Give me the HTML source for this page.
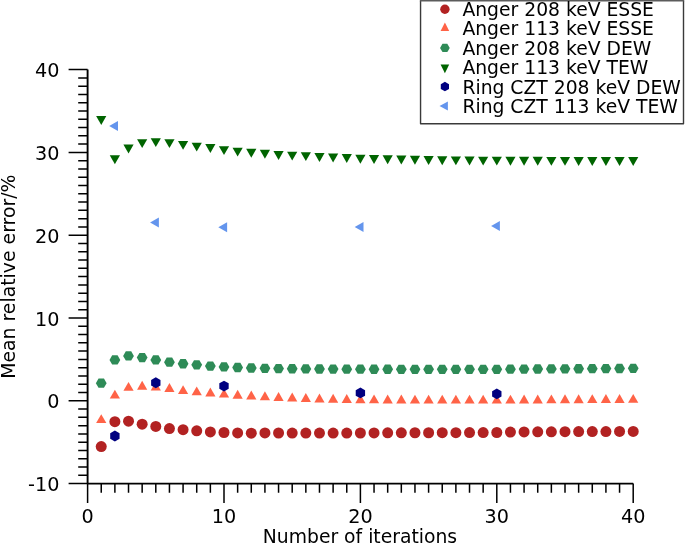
<!DOCTYPE html>
<html><head><meta charset="utf-8"><style>
html,body{margin:0;padding:0;background:#fff;}
svg{display:block;}
text{font-family:'DejaVu Sans','Liberation Sans',sans-serif;font-size:18.6px;fill:#000;}
</style></head><body>
<svg width="685" height="544" viewBox="0 0 685 544">
<rect width="685" height="544" fill="#fff"/>
<path d="M87.60,69.60 L87.60,483.60 L633.20,483.60" fill="none" stroke="#000" stroke-width="1.9" stroke-linejoin="round"/>
<path d="M68.60,483.60H87.60M78.20,475.32H87.60M78.20,467.04H87.60M78.20,458.76H87.60M78.20,450.48H87.60M78.20,442.20H87.60M78.20,433.92H87.60M78.20,425.64H87.60M78.20,417.36H87.60M78.20,409.08H87.60M68.60,400.80H87.60M78.20,392.52H87.60M78.20,384.24H87.60M78.20,375.96H87.60M78.20,367.68H87.60M78.20,359.40H87.60M78.20,351.12H87.60M78.20,342.84H87.60M78.20,334.56H87.60M78.20,326.28H87.60M68.60,318.00H87.60M78.20,309.72H87.60M78.20,301.44H87.60M78.20,293.16H87.60M78.20,284.88H87.60M78.20,276.60H87.60M78.20,268.32H87.60M78.20,260.04H87.60M78.20,251.76H87.60M78.20,243.48H87.60M68.60,235.20H87.60M78.20,226.92H87.60M78.20,218.64H87.60M78.20,210.36H87.60M78.20,202.08H87.60M78.20,193.80H87.60M78.20,185.52H87.60M78.20,177.24H87.60M78.20,168.96H87.60M78.20,160.68H87.60M68.60,152.40H87.60M78.20,144.12H87.60M78.20,135.84H87.60M78.20,127.56H87.60M78.20,119.28H87.60M78.20,111.00H87.60M78.20,102.72H87.60M78.20,94.44H87.60M78.20,86.16H87.60M78.20,77.88H87.60M68.60,69.60H87.60M87.60,483.60V502.90M101.24,483.60V492.80M114.88,483.60V492.80M128.52,483.60V492.80M142.16,483.60V492.80M155.80,483.60V492.80M169.44,483.60V492.80M183.08,483.60V492.80M196.72,483.60V492.80M210.36,483.60V492.80M224.00,483.60V502.90M237.64,483.60V492.80M251.28,483.60V492.80M264.92,483.60V492.80M278.56,483.60V492.80M292.20,483.60V492.80M305.84,483.60V492.80M319.48,483.60V492.80M333.12,483.60V492.80M346.76,483.60V492.80M360.40,483.60V502.90M374.04,483.60V492.80M387.68,483.60V492.80M401.32,483.60V492.80M414.96,483.60V492.80M428.60,483.60V492.80M442.24,483.60V492.80M455.88,483.60V492.80M469.52,483.60V492.80M483.16,483.60V492.80M496.80,483.60V502.90M510.44,483.60V492.80M524.08,483.60V492.80M537.72,483.60V492.80M551.36,483.60V492.80M565.00,483.60V492.80M578.64,483.60V492.80M592.28,483.60V492.80M605.92,483.60V492.80M619.56,483.60V492.80M633.20,483.60V502.90" fill="none" stroke="#000" stroke-width="1.5"/>
<text x="59.4" y="491.10" text-anchor="end" style="font-size:19.2px">-10</text>
<text x="59.4" y="408.30" text-anchor="end" style="font-size:19.2px">0</text>
<text x="59.4" y="325.50" text-anchor="end" style="font-size:19.2px">10</text>
<text x="59.4" y="242.70" text-anchor="end" style="font-size:19.2px">20</text>
<text x="59.4" y="159.90" text-anchor="end" style="font-size:19.2px">30</text>
<text x="59.4" y="77.10" text-anchor="end" style="font-size:19.2px">40</text>
<text x="87.60" y="522.5" text-anchor="middle" style="font-size:19.2px">0</text>
<text x="224.00" y="522.5" text-anchor="middle" style="font-size:19.2px">10</text>
<text x="360.40" y="522.5" text-anchor="middle" style="font-size:19.2px">20</text>
<text x="496.80" y="522.5" text-anchor="middle" style="font-size:19.2px">30</text>
<text x="633.20" y="522.5" text-anchor="middle" style="font-size:19.2px">40</text>
<text x="360.00" y="542.5" text-anchor="middle" style="font-size:18.75px">Number of iterations</text>
<text transform="translate(14.9,276.7) rotate(-90)" x="0" y="0" text-anchor="middle" style="font-size:18.85px">Mean relative error/%</text>
<circle cx="101.24" cy="446.59" r="5.50" fill="#b22222"/>
<circle cx="114.88" cy="421.67" r="5.50" fill="#b22222"/>
<circle cx="128.52" cy="421.17" r="5.50" fill="#b22222"/>
<circle cx="142.16" cy="424.23" r="5.50" fill="#b22222"/>
<circle cx="155.80" cy="426.39" r="5.50" fill="#b22222"/>
<circle cx="169.44" cy="428.62" r="5.50" fill="#b22222"/>
<circle cx="183.08" cy="429.70" r="5.50" fill="#b22222"/>
<circle cx="196.72" cy="430.86" r="5.50" fill="#b22222"/>
<circle cx="210.36" cy="431.93" r="5.50" fill="#b22222"/>
<circle cx="224.00" cy="432.51" r="5.50" fill="#b22222"/>
<circle cx="237.64" cy="432.93" r="5.50" fill="#b22222"/>
<circle cx="251.28" cy="433.17" r="5.50" fill="#b22222"/>
<circle cx="264.92" cy="432.93" r="5.50" fill="#b22222"/>
<circle cx="278.56" cy="433.01" r="5.50" fill="#b22222"/>
<circle cx="292.20" cy="433.09" r="5.50" fill="#b22222"/>
<circle cx="305.84" cy="433.09" r="5.50" fill="#b22222"/>
<circle cx="319.48" cy="433.09" r="5.50" fill="#b22222"/>
<circle cx="333.12" cy="433.09" r="5.50" fill="#b22222"/>
<circle cx="346.76" cy="433.09" r="5.50" fill="#b22222"/>
<circle cx="360.40" cy="433.01" r="5.50" fill="#b22222"/>
<circle cx="374.04" cy="432.93" r="5.50" fill="#b22222"/>
<circle cx="387.68" cy="432.84" r="5.50" fill="#b22222"/>
<circle cx="401.32" cy="432.84" r="5.50" fill="#b22222"/>
<circle cx="414.96" cy="432.76" r="5.50" fill="#b22222"/>
<circle cx="428.60" cy="432.76" r="5.50" fill="#b22222"/>
<circle cx="442.24" cy="432.68" r="5.50" fill="#b22222"/>
<circle cx="455.88" cy="432.68" r="5.50" fill="#b22222"/>
<circle cx="469.52" cy="432.60" r="5.50" fill="#b22222"/>
<circle cx="483.16" cy="432.60" r="5.50" fill="#b22222"/>
<circle cx="496.80" cy="432.51" r="5.50" fill="#b22222"/>
<circle cx="510.44" cy="432.02" r="5.50" fill="#b22222"/>
<circle cx="524.08" cy="431.93" r="5.50" fill="#b22222"/>
<circle cx="537.72" cy="431.85" r="5.50" fill="#b22222"/>
<circle cx="551.36" cy="431.77" r="5.50" fill="#b22222"/>
<circle cx="565.00" cy="431.68" r="5.50" fill="#b22222"/>
<circle cx="578.64" cy="431.60" r="5.50" fill="#b22222"/>
<circle cx="592.28" cy="431.52" r="5.50" fill="#b22222"/>
<circle cx="605.92" cy="431.52" r="5.50" fill="#b22222"/>
<circle cx="619.56" cy="431.44" r="5.50" fill="#b22222"/>
<circle cx="633.20" cy="431.44" r="5.50" fill="#b22222"/>
<polygon points="101.24,414.22 96.14,423.12 106.34,423.12" fill="#ff6347"/>
<polygon points="114.88,389.71 109.78,398.61 119.98,398.61" fill="#ff6347"/>
<polygon points="128.52,381.93 123.42,390.83 133.62,390.83" fill="#ff6347"/>
<polygon points="142.16,380.77 137.06,389.67 147.26,389.67" fill="#ff6347"/>
<polygon points="155.80,381.68 150.70,390.58 160.90,390.58" fill="#ff6347"/>
<polygon points="169.44,383.01 164.34,391.91 174.54,391.91" fill="#ff6347"/>
<polygon points="183.08,385.16 177.98,394.06 188.18,394.06" fill="#ff6347"/>
<polygon points="196.72,386.40 191.62,395.30 201.82,395.30" fill="#ff6347"/>
<polygon points="210.36,387.48 205.26,396.38 215.46,396.38" fill="#ff6347"/>
<polygon points="224.00,388.72 218.90,397.62 229.10,397.62" fill="#ff6347"/>
<polygon points="237.64,389.80 232.54,398.70 242.74,398.70" fill="#ff6347"/>
<polygon points="251.28,390.62 246.18,399.52 256.38,399.52" fill="#ff6347"/>
<polygon points="264.92,391.37 259.82,400.27 270.02,400.27" fill="#ff6347"/>
<polygon points="278.56,392.03 273.46,400.93 283.66,400.93" fill="#ff6347"/>
<polygon points="292.20,392.61 287.10,401.51 297.30,401.51" fill="#ff6347"/>
<polygon points="305.84,393.11 300.74,402.01 310.94,402.01" fill="#ff6347"/>
<polygon points="319.48,393.52 314.38,402.42 324.58,402.42" fill="#ff6347"/>
<polygon points="333.12,393.85 328.02,402.75 338.22,402.75" fill="#ff6347"/>
<polygon points="346.76,394.10 341.66,403.00 351.86,403.00" fill="#ff6347"/>
<polygon points="360.40,394.27 355.30,403.17 365.50,403.17" fill="#ff6347"/>
<polygon points="374.04,394.43 368.94,403.33 379.14,403.33" fill="#ff6347"/>
<polygon points="387.68,394.52 382.58,403.42 392.78,403.42" fill="#ff6347"/>
<polygon points="401.32,394.60 396.22,403.50 406.42,403.50" fill="#ff6347"/>
<polygon points="414.96,394.68 409.86,403.58 420.06,403.58" fill="#ff6347"/>
<polygon points="428.60,394.68 423.50,403.58 433.70,403.58" fill="#ff6347"/>
<polygon points="442.24,394.68 437.14,403.58 447.34,403.58" fill="#ff6347"/>
<polygon points="455.88,394.68 450.78,403.58 460.98,403.58" fill="#ff6347"/>
<polygon points="469.52,394.68 464.42,403.58 474.62,403.58" fill="#ff6347"/>
<polygon points="483.16,394.68 478.06,403.58 488.26,403.58" fill="#ff6347"/>
<polygon points="496.80,394.68 491.70,403.58 501.90,403.58" fill="#ff6347"/>
<polygon points="510.44,394.68 505.34,403.58 515.54,403.58" fill="#ff6347"/>
<polygon points="524.08,394.60 518.98,403.50 529.18,403.50" fill="#ff6347"/>
<polygon points="537.72,394.52 532.62,403.42 542.82,403.42" fill="#ff6347"/>
<polygon points="551.36,394.43 546.26,403.33 556.46,403.33" fill="#ff6347"/>
<polygon points="565.00,394.35 559.90,403.25 570.10,403.25" fill="#ff6347"/>
<polygon points="578.64,394.27 573.54,403.17 583.74,403.17" fill="#ff6347"/>
<polygon points="592.28,394.18 587.18,403.08 597.38,403.08" fill="#ff6347"/>
<polygon points="605.92,394.10 600.82,403.00 611.02,403.00" fill="#ff6347"/>
<polygon points="619.56,394.02 614.46,402.92 624.66,402.92" fill="#ff6347"/>
<polygon points="633.20,393.94 628.10,402.84 638.30,402.84" fill="#ff6347"/>
<polygon points="106.64,383.16 103.94,378.49 98.54,378.49 95.84,383.16 98.54,387.84 103.94,387.84" fill="#2e8b57"/>
<polygon points="120.28,359.90 117.58,355.22 112.18,355.22 109.48,359.90 112.18,364.57 117.58,364.57" fill="#2e8b57"/>
<polygon points="133.92,355.92 131.22,351.25 125.82,351.25 123.12,355.92 125.82,360.60 131.22,360.60" fill="#2e8b57"/>
<polygon points="147.56,357.58 144.86,352.90 139.46,352.90 136.76,357.58 139.46,362.25 144.86,362.25" fill="#2e8b57"/>
<polygon points="161.20,359.90 158.50,355.22 153.10,355.22 150.40,359.90 153.10,364.57 158.50,364.57" fill="#2e8b57"/>
<polygon points="174.84,362.13 172.14,357.46 166.74,357.46 164.04,362.13 166.74,366.81 172.14,366.81" fill="#2e8b57"/>
<polygon points="188.48,363.79 185.78,359.11 180.38,359.11 177.68,363.79 180.38,368.46 185.78,368.46" fill="#2e8b57"/>
<polygon points="202.12,364.86 199.42,360.19 194.02,360.19 191.32,364.86 194.02,369.54 199.42,369.54" fill="#2e8b57"/>
<polygon points="215.76,366.11 213.06,361.43 207.66,361.43 204.96,366.11 207.66,370.78 213.06,370.78" fill="#2e8b57"/>
<polygon points="229.40,366.93 226.70,362.26 221.30,362.26 218.60,366.93 221.30,371.61 226.70,371.61" fill="#2e8b57"/>
<polygon points="243.04,367.51 240.34,362.84 234.94,362.84 232.24,367.51 234.94,372.19 240.34,372.19" fill="#2e8b57"/>
<polygon points="256.68,368.01 253.98,363.33 248.58,363.33 245.88,368.01 248.58,372.69 253.98,372.69" fill="#2e8b57"/>
<polygon points="270.32,368.34 267.62,363.67 262.22,363.67 259.52,368.34 262.22,373.02 267.62,373.02" fill="#2e8b57"/>
<polygon points="283.96,368.59 281.26,363.91 275.86,363.91 273.16,368.59 275.86,373.27 281.26,373.27" fill="#2e8b57"/>
<polygon points="297.60,368.76 294.90,364.08 289.50,364.08 286.80,368.76 289.50,373.43 294.90,373.43" fill="#2e8b57"/>
<polygon points="311.24,368.92 308.54,364.25 303.14,364.25 300.44,368.92 303.14,373.60 308.54,373.60" fill="#2e8b57"/>
<polygon points="324.88,369.00 322.18,364.33 316.78,364.33 314.08,369.00 316.78,373.68 322.18,373.68" fill="#2e8b57"/>
<polygon points="338.52,369.09 335.82,364.41 330.42,364.41 327.72,369.09 330.42,373.76 335.82,373.76" fill="#2e8b57"/>
<polygon points="352.16,369.17 349.46,364.49 344.06,364.49 341.36,369.17 344.06,373.85 349.46,373.85" fill="#2e8b57"/>
<polygon points="365.80,369.17 363.10,364.49 357.70,364.49 355.00,369.17 357.70,373.85 363.10,373.85" fill="#2e8b57"/>
<polygon points="379.44,369.25 376.74,364.58 371.34,364.58 368.64,369.25 371.34,373.93 376.74,373.93" fill="#2e8b57"/>
<polygon points="393.08,369.25 390.38,364.58 384.98,364.58 382.28,369.25 384.98,373.93 390.38,373.93" fill="#2e8b57"/>
<polygon points="406.72,369.34 404.02,364.66 398.62,364.66 395.92,369.34 398.62,374.01 404.02,374.01" fill="#2e8b57"/>
<polygon points="420.36,369.34 417.66,364.66 412.26,364.66 409.56,369.34 412.26,374.01 417.66,374.01" fill="#2e8b57"/>
<polygon points="434.00,369.34 431.30,364.66 425.90,364.66 423.20,369.34 425.90,374.01 431.30,374.01" fill="#2e8b57"/>
<polygon points="447.64,369.34 444.94,364.66 439.54,364.66 436.84,369.34 439.54,374.01 444.94,374.01" fill="#2e8b57"/>
<polygon points="461.28,369.34 458.58,364.66 453.18,364.66 450.48,369.34 453.18,374.01 458.58,374.01" fill="#2e8b57"/>
<polygon points="474.92,369.34 472.22,364.66 466.82,364.66 464.12,369.34 466.82,374.01 472.22,374.01" fill="#2e8b57"/>
<polygon points="488.56,369.34 485.86,364.66 480.46,364.66 477.76,369.34 480.46,374.01 485.86,374.01" fill="#2e8b57"/>
<polygon points="502.20,369.34 499.50,364.66 494.10,364.66 491.40,369.34 494.10,374.01 499.50,374.01" fill="#2e8b57"/>
<polygon points="515.84,369.17 513.14,364.49 507.74,364.49 505.04,369.17 507.74,373.85 513.14,373.85" fill="#2e8b57"/>
<polygon points="529.48,369.09 526.78,364.41 521.38,364.41 518.68,369.09 521.38,373.76 526.78,373.76" fill="#2e8b57"/>
<polygon points="543.12,369.00 540.42,364.33 535.02,364.33 532.32,369.00 535.02,373.68 540.42,373.68" fill="#2e8b57"/>
<polygon points="556.76,368.92 554.06,364.25 548.66,364.25 545.96,368.92 548.66,373.60 554.06,373.60" fill="#2e8b57"/>
<polygon points="570.40,368.84 567.70,364.16 562.30,364.16 559.60,368.84 562.30,373.52 567.70,373.52" fill="#2e8b57"/>
<polygon points="584.04,368.76 581.34,364.08 575.94,364.08 573.24,368.76 575.94,373.43 581.34,373.43" fill="#2e8b57"/>
<polygon points="597.68,368.67 594.98,364.00 589.58,364.00 586.88,368.67 589.58,373.35 594.98,373.35" fill="#2e8b57"/>
<polygon points="611.32,368.59 608.62,363.91 603.22,363.91 600.52,368.59 603.22,373.27 608.62,373.27" fill="#2e8b57"/>
<polygon points="624.96,368.51 622.26,363.83 616.86,363.83 614.16,368.51 616.86,373.18 622.26,373.18" fill="#2e8b57"/>
<polygon points="638.60,368.34 635.90,363.67 630.50,363.67 627.80,368.34 630.50,373.02 635.90,373.02" fill="#2e8b57"/>
<polygon points="101.24,124.98 96.14,116.08 106.34,116.08" fill="#006400"/>
<polygon points="114.88,164.23 109.78,155.33 119.98,155.33" fill="#006400"/>
<polygon points="128.52,153.47 123.42,144.57 133.62,144.57" fill="#006400"/>
<polygon points="142.16,148.09 137.06,139.19 147.26,139.19" fill="#006400"/>
<polygon points="155.80,147.09 150.70,138.19 160.90,138.19" fill="#006400"/>
<polygon points="169.44,148.09 164.34,139.19 174.54,139.19" fill="#006400"/>
<polygon points="183.08,149.82 177.98,140.92 188.18,140.92" fill="#006400"/>
<polygon points="196.72,151.56 191.62,142.66 201.82,142.66" fill="#006400"/>
<polygon points="210.36,152.97 205.26,144.07 215.46,144.07" fill="#006400"/>
<polygon points="224.00,155.04 218.90,146.14 229.10,146.14" fill="#006400"/>
<polygon points="237.64,156.53 232.54,147.63 242.74,147.63" fill="#006400"/>
<polygon points="251.28,157.77 246.18,148.87 256.38,148.87" fill="#006400"/>
<polygon points="264.92,158.68 259.82,149.78 270.02,149.78" fill="#006400"/>
<polygon points="278.56,159.93 273.46,151.03 283.66,151.03" fill="#006400"/>
<polygon points="292.20,160.59 287.10,151.69 297.30,151.69" fill="#006400"/>
<polygon points="305.84,161.09 300.74,152.19 310.94,152.19" fill="#006400"/>
<polygon points="319.48,161.91 314.38,153.01 324.58,153.01" fill="#006400"/>
<polygon points="333.12,162.41 328.02,153.51 338.22,153.51" fill="#006400"/>
<polygon points="346.76,162.91 341.66,154.01 351.86,154.01" fill="#006400"/>
<polygon points="360.40,163.65 355.30,154.75 365.50,154.75" fill="#006400"/>
<polygon points="374.04,163.90 368.94,155.00 379.14,155.00" fill="#006400"/>
<polygon points="387.68,164.15 382.58,155.25 392.78,155.25" fill="#006400"/>
<polygon points="401.32,164.40 396.22,155.50 406.42,155.50" fill="#006400"/>
<polygon points="414.96,164.73 409.86,155.83 420.06,155.83" fill="#006400"/>
<polygon points="428.60,164.98 423.50,156.08 433.70,156.08" fill="#006400"/>
<polygon points="442.24,165.14 437.14,156.24 447.34,156.24" fill="#006400"/>
<polygon points="455.88,165.31 450.78,156.41 460.98,156.41" fill="#006400"/>
<polygon points="469.52,165.39 464.42,156.49 474.62,156.49" fill="#006400"/>
<polygon points="483.16,165.56 478.06,156.66 488.26,156.66" fill="#006400"/>
<polygon points="496.80,165.56 491.70,156.66 501.90,156.66" fill="#006400"/>
<polygon points="510.44,165.64 505.34,156.74 515.54,156.74" fill="#006400"/>
<polygon points="524.08,165.72 518.98,156.82 529.18,156.82" fill="#006400"/>
<polygon points="537.72,165.72 532.62,156.82 542.82,156.82" fill="#006400"/>
<polygon points="551.36,165.80 546.26,156.90 556.46,156.90" fill="#006400"/>
<polygon points="565.00,165.80 559.90,156.90 570.10,156.90" fill="#006400"/>
<polygon points="578.64,165.89 573.54,156.99 583.74,156.99" fill="#006400"/>
<polygon points="592.28,165.89 587.18,156.99 597.38,156.99" fill="#006400"/>
<polygon points="605.92,165.97 600.82,157.07 611.02,157.07" fill="#006400"/>
<polygon points="619.56,165.97 614.46,157.07 624.66,157.07" fill="#006400"/>
<polygon points="633.20,165.97 628.10,157.07 638.30,157.07" fill="#006400"/>
<polygon points="114.88,430.59 110.20,433.29 110.20,438.69 114.88,441.39 119.56,438.69 119.56,433.29" fill="#000080"/>
<polygon points="155.80,377.35 151.12,380.05 151.12,385.45 155.80,388.15 160.48,385.45 160.48,380.05" fill="#000080"/>
<polygon points="224.00,380.66 219.32,383.36 219.32,388.76 224.00,391.46 228.68,388.76 228.68,383.36" fill="#000080"/>
<polygon points="360.40,387.53 355.72,390.23 355.72,395.63 360.40,398.33 365.08,395.63 365.08,390.23" fill="#000080"/>
<polygon points="496.80,388.44 492.12,391.14 492.12,396.54 496.80,399.24 501.48,396.54 501.48,391.14" fill="#000080"/>
<polygon points="109.18,126.07 117.98,121.07 117.98,131.07" fill="#6495ed"/>
<polygon points="150.10,222.61 158.90,217.61 158.90,227.61" fill="#6495ed"/>
<polygon points="218.30,227.17 227.10,222.17 227.10,232.17" fill="#6495ed"/>
<polygon points="354.70,227.09 363.50,222.09 363.50,232.09" fill="#6495ed"/>
<polygon points="491.10,226.01 499.90,221.01 499.90,231.01" fill="#6495ed"/>
<rect x="420.55" y="0" width="262.95" height="123.80" fill="#fff"/>
<path d="M420.55,0.8 L420.55,123.8 L683.5,123.8 L683.5,0.8" fill="none" stroke="#3a3a3a" stroke-width="1.4" stroke-linejoin="round"/>
<path d="M419.85,0.75 L684.2,0.75" fill="none" stroke="#5c5c5c" stroke-width="1.5"/>
<circle cx="444.90" cy="9.20" r="4.70" fill="#b22222"/>
<polygon points="444.90,22.40 440.60,31.00 449.20,31.00" fill="#ff6347"/>
<polygon points="449.75,47.90 447.32,43.70 442.47,43.70 440.05,47.90 442.47,52.10 447.32,52.10" fill="#2e8b57"/>
<polygon points="444.90,73.20 440.60,64.50 449.20,64.50" fill="#006400"/>
<polygon points="444.90,81.85 440.79,84.22 440.79,88.97 444.90,91.35 449.01,88.97 449.01,84.22" fill="#000080"/>
<polygon points="439.50,106.05 447.90,101.60 447.90,110.50" fill="#6495ed"/>
<text x="462.4" y="16.20" style="font-size:18.75px">Anger 208 keV ESSE</text>
<text x="462.4" y="35.45" style="font-size:18.75px">Anger 113 keV ESSE</text>
<text x="462.4" y="54.80" style="font-size:18.75px">Anger 208 keV DEW</text>
<text x="462.4" y="74.35" style="font-size:18.75px">Anger 113 keV TEW</text>
<text x="462.4" y="93.70" style="font-size:18.75px">Ring CZT 208 keV DEW</text>
<text x="462.4" y="112.70" style="font-size:18.75px">Ring CZT 113 keV TEW</text>
</svg>
</body></html>
